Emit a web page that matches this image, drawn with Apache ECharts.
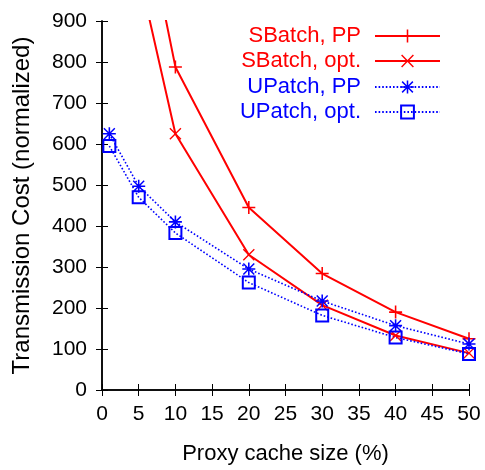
<!DOCTYPE html>
<html>
<head>
<meta charset="utf-8">
<script src="https://cdn.jsdelivr.net/npm/echarts@6/dist/echarts.min.js"></script>
<style>
  html, body { margin: 0; padding: 0; background: #fff; }
  #chart { width: 485px; height: 470px; }
</style>
</head>
<body>
<div id="chart"></div>
<script>
const cacheSizes = [1, 5, 10, 20, 30, 40, 50];
const sbatchPP = [null, 1230, 788, 445, 284, 190, 125];
const sbatchOpt = [null, 1020, 625, 330, 207, 133, 90];
const upatchPP = [625, 497, 410, 295, 217, 157, 112];
const upatchOpt = [595, 470, 383, 262, 182, 128, 88];
const seriesNames = ['SBatch, PP', 'SBatch, opt.', 'UPatch, PP', 'UPatch, opt.'];

const RED = '#ff0000';
const BLUE = '#0000ff';
const FONT = 'Liberation Sans';

const plusPath = 'path://M0,4.4H10V5.6H0Z M4.4,0H5.6V10H4.4Z';
const crossPath = 'path://M0.8,0L5,4.2L9.2,0L10,0.8L5.8,5L10,9.2L9.2,10L5,5.8L0.8,10L0,9.2L4.2,5L0,0.8Z';
const starPath = 'path://M0,4.4H10V5.6H0Z M4.4,0H5.6V10H4.4Z M1.2,0.4L5,4.2L8.8,0.4L9.6,1.2L5.8,5L9.6,8.8L8.8,9.6L5,5.8L1.2,9.6L0.4,8.8L4.2,5L0.4,1.2Z';

const pairs = arr => cacheSizes.map((x, i) => [x, arr[i]]).filter(p => p[1] !== null);

const chart = echarts.init(document.getElementById('chart'));

const legendRows = [37, 62, 88, 113];

function legendFor(i, color) {
  return {
    data: [seriesNames[i]],
    right: 44,
    top: legendRows[i] - 12,
    padding: 0,
    align: 'right',
    itemWidth: 65,
    itemHeight: 16,
    selectedMode: false,
    textStyle: { color: color, fontSize: 22, fontFamily: FONT, padding: [0, 9, 0, 0] }
  };
}

const tickStyle = { show: true, inside: true, length: 6, lineStyle: { color: '#000', width: 1 } };
const frameLine = { show: true, lineStyle: { color: '#000', width: 1.5 } };

const option = {
  animation: false,
  grid: { left: 102, right: 16, top: 21, bottom: 76 },
  legend: [legendFor(0, RED), legendFor(1, RED), legendFor(2, BLUE), legendFor(3, BLUE)],
  xAxis: [
    {
      type: 'value', min: 0, max: 50, interval: 5,
      name: 'Proxy cache size (%)', nameLocation: 'middle', nameGap: 53,
      nameTextStyle: { fontSize: 22, fontFamily: FONT, color: '#000' },
      axisLine: frameLine,
      axisTick: tickStyle,
      axisLabel: { fontSize: 21, fontFamily: FONT, color: '#000', margin: 14 },
      splitLine: { show: false }
    },
    {
      type: 'value', min: 0, max: 50, interval: 5, position: 'top',
      axisLine: frameLine,
      axisTick: tickStyle, axisLabel: { show: false }, splitLine: { show: false }
    }
  ],
  yAxis: [
    {
      type: 'value', min: 0, max: 900, interval: 100,
      name: 'Transmission Cost (normalized)', nameLocation: 'middle', nameGap: 68,
      nameTextStyle: { fontSize: 24, fontFamily: FONT, color: '#000' },
      axisLine: frameLine,
      axisTick: tickStyle,
      axisLabel: { fontSize: 21, fontFamily: FONT, color: '#000', margin: 15 },
      splitLine: { show: false }
    },
    {
      type: 'value', min: 0, max: 900, interval: 100, position: 'right',
      axisLine: frameLine,
      axisTick: tickStyle, axisLabel: { show: false }, splitLine: { show: false }
    }
  ],
  series: [
    {
      name: seriesNames[0], type: 'line', data: pairs(sbatchPP),
      symbol: plusPath, symbolSize: 13,
      itemStyle: { color: RED }, lineStyle: { color: RED, width: 2 }
    },
    {
      name: seriesNames[1], type: 'line', data: pairs(sbatchOpt),
      symbol: crossPath, symbolSize: 12,
      itemStyle: { color: RED }, lineStyle: { color: RED, width: 2 }
    },
    {
      name: seriesNames[2], type: 'line', data: pairs(upatchPP),
      symbol: starPath, symbolSize: 13,
      itemStyle: { color: BLUE }, lineStyle: { color: BLUE, width: 1.6, type: [1.6, 2] }
    },
    {
      name: seriesNames[3], type: 'line', data: pairs(upatchOpt),
      symbol: 'rect', symbolSize: 12,
      itemStyle: { color: 'rgba(255,255,255,0)', borderColor: BLUE, borderWidth: 2 },
      lineStyle: { color: BLUE, width: 1.6, type: [1.6, 2] }
    }
  ]
};

chart.setOption(option);
</script>
</body>
</html>
